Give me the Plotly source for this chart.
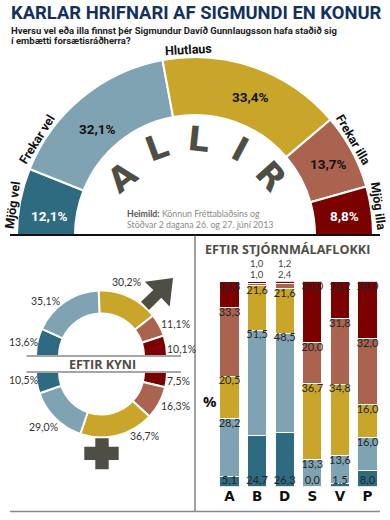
import plotly.graph_objects as go

W, H = 390, 520
segments = ["Mjög vel", "Frekar vel", "Hlutlaus", "Frekar illa", "Mjög illa"]
colors = ["#2f6b80", "#7fa3b2", "#c9a62a", "#a9634f", "#7b0000"]
allir = [12.1, 32.1, 33.4, 13.7, 8.8]
karlar = [13.6, 35.1, 30.2, 11.1, 10.1]
konur = [10.5, 29.0, 36.7, 16.3, 7.5]
parties = ["A", "B", "D", "S", "V", "P"]
mjog_vel = [5.1, 24.7, 26.3, 0.0, 1.5, 8.0]
frekar_vel = [28.2, 51.5, 48.5, 13.3, 13.6, 16.0]
hlutlaus = [20.5, 21.6, 21.6, 36.7, 34.8, 16.0]
frekar_illa = [33.3, 1.0, 2.4, 20.0, 31.8, 32.0]
mjog_illa = [12.8, 1.0, 1.2, 30.0, 18.2, 28.0]

DARK = "#4f4e45"
FONT = "Lato"
HEAD = "Roboto"


def fmt(v):
    return f"{v:.1f}".replace(".", ",")


def half_ring(values, cols, rotation, cx, cy, r, hole, line=2):
    return go.Pie(
        values=values + [sum(values)],
        sort=False,
        direction="clockwise",
        rotation=rotation,
        hole=hole,
        domain=dict(x=[(cx - r) / W, (cx + r) / W], y=[1 - (cy + r) / H, 1 - (cy - r) / H]),
        marker=dict(colors=cols + ["rgba(0,0,0,0)"],
                    line=dict(color="white", width=[line] * 5 + [0])),
        textinfo="none",
        hoverinfo="skip",
        showlegend=False,
    )


fig = go.Figure()
fig.add_trace(half_ring(allir, colors, 270, 195, 235, 178, 120 / 178))
fig.add_trace(half_ring(karlar, colors, 270, 101.5, 356, 65.5, 42.5 / 65.5))
fig.add_trace(half_ring(konur[::-1], colors[::-1], 90, 101.5, 372, 65.5, 42.5 / 65.5))

series = [mjog_vel, frekar_vel, hlutlaus, frekar_illa, mjog_illa]
tops = [0.0] * len(parties)
for i, vals in enumerate(series):
    fig.add_trace(go.Bar(
        x=parties, y=vals, name=segments[i],
        marker=dict(color=colors[i], line=dict(color="white", width=1)),
        hoverinfo="skip",
        showlegend=False,
    ))
    tops = [t + v for t, v in zip(tops, vals)]
    small = [v <= 2.4 and i >= 3 for v in vals]
    fig.add_trace(go.Scatter(
        x=parties,
        y=[0] * len(parties) if i == 0 else tops,
        mode="text",
        text=["" if s else fmt(v) for v, s in zip(vals, small)],
        textposition="top center" if i == 0 else "bottom center",
        textfont=dict(family=FONT, size=11, color="#252525"),
        cliponaxis=False,
        hoverinfo="skip",
        showlegend=False,
    ))

ann = []


def T(text, x, y, size, color="#111", bold=False, angle=0, anchor="center", fam=HEAD):
    ann.append(dict(text=f"<b>{text}</b>" if bold else text, x=x / W, y=1 - y / H,
                    xref="paper", yref="paper", xanchor=anchor, yanchor="middle",
                    showarrow=False, textangle=angle, borderpad=0,
                    font=dict(family=fam, size=size, color=color)))


T("KARLAR HRIFNARI AF SIGMUNDI EN KONUR", 10, 12.5, 18.4, "#14305c", True, anchor="left")
T("Hversu vel eða illa finnst þér Sigmundur Davíð Gunnlaugsson hafa staðið sig", 10, 30.5, 9.5, "#1c1c1c", True, anchor="left")
T("í embætti forsætisráðherra?", 10, 41, 9.5, "#1c1c1c", True, anchor="left")

seg_pos = [(13, 205, -82), (37, 140, -58), (188, 50, -3), (353, 140, 60), (378, 206, 82)]
for s, (x, y, a) in zip(segments, seg_pos):
    T(s, x, y, 12.5, "#111", True, a)

val_pos = [(50, 216, "white"), (97, 129, "#111"), (250, 97, "#111"), (328, 164, "#111"), (344, 216, "white")]
for v, (x, y, c) in zip(allir, val_pos):
    T(fmt(v) + "%", x, y, 13.5, c, True)

for ch, x, y, a in [("A", 122, 177, -38), ("L", 157, 147, -20), ("L", 199, 139, 6),
                    ("I", 240, 149, 28), ("R", 271, 176, 48)]:
    T(ch, x, y, 34, DARK, True, a, fam="DejaVu Sans")

T('<span style="color:#555"><b>Heimild:</b></span> Könnun Fréttablaðsins og', 126, 213.5, 8.8, "#8a8a86", anchor="left", fam=FONT)
T("Stöðvar 2 dagana 26. og 27. júní 2013", 126, 224.5, 8.8, "#8a8a86", anchor="left", fam=FONT)

kar_pos = [(23, 342), (45, 301), (126, 282), (175, 324), (181, 349)]
kon_pos = [(23, 380), (43, 427), (144, 436), (175, 406), (178, 381)]
for vals, pos in [(karlar, kar_pos), (konur, kon_pos)]:
    for v, (x, y) in zip(vals, pos):
        T(fmt(v) + "%", x, y, 10.5, "#333", fam=FONT)

T("EFTIR KYNI", 102, 364, 12.5, DARK, True, fam="Open Sans")
T("EFTIR STJÓRNMÁLAFLOKKI", 204, 249, 12.6, DARK, True, anchor="left", fam="Open Sans")
T("%", 210, 401, 15, "#111", True, fam="Open Sans")

for x, top, low in [("B", mjog_illa[1], frekar_illa[1]), ("D", mjog_illa[2], frekar_illa[2])]:
    for v, shift in [(top, 18), (low, 7)]:
        ann.append(dict(text=fmt(v), x=x, y=100, xref="x", yref="y", yshift=shift,
                        showarrow=False, borderpad=0, font=dict(family=FONT, size=9.5, color="#444")))


def P(pts):
    return "M" + " L".join(f"{x / W:.5f},{1 - y / H:.5f}" for x, y in pts) + " Z"


shapes = []
for x0, y0, x1, y1, c, w in [(10, 235, 380, 235, "#111", 2),
                             (195, 235, 195, 511.5, "#444", 1),
                             (10, 511.5, 380, 511.5, "#888", 1.5),
                             (26.5, 356, 181, 356, "#888", 1.5),
                             (26.5, 372, 181, 372, "#888", 1.5)]:
    shapes.append(dict(type="line", xref="paper", yref="paper", x0=x0 / W, x1=x1 / W,
                       y0=1 - y0 / H, y1=1 - y1 / H, line=dict(color=c, width=w)))
arrow = [(173, 278), (144.7, 281.7), (153.3, 290), (141, 301.7), (149, 310), (161.3, 297.7), (169.7, 306.7)]
plus = [(95.3, 438.3), (108.7, 438.3), (108.7, 446.7), (118.7, 446.7), (118.7, 460), (108.7, 460),
        (108.7, 469.3), (95.3, 469.3), (95.3, 460), (84.3, 460), (84.3, 446.7), (95.3, 446.7)]
for pts in (arrow, plus):
    shapes.append(dict(type="path", xref="paper", yref="paper", path=P(pts),
                       fillcolor=DARK, line=dict(width=0)))

fig.update_layout(
    width=W, height=H, margin=dict(l=0, r=0, t=0, b=0),
    paper_bgcolor="white", plot_bgcolor="white",
    barmode="stack", bargap=0.31,
    annotations=ann, shapes=shapes,
    xaxis=dict(domain=[215.7 / W, 381.3 / W], categoryorder="array", categoryarray=parties,
               showgrid=False, zeroline=False, showline=False, ticks="",
               tickfont=dict(family="DejaVu Sans", size=13.5, color="#111", weight="bold")),
    yaxis=dict(domain=[1 - 486.7 / H, 1 - 281.3 / H], range=[0, 100], visible=False),
)
fig.write_html("out.html", post_script="document.body.style.margin='0';",
               config=dict(displayModeBar=False))
